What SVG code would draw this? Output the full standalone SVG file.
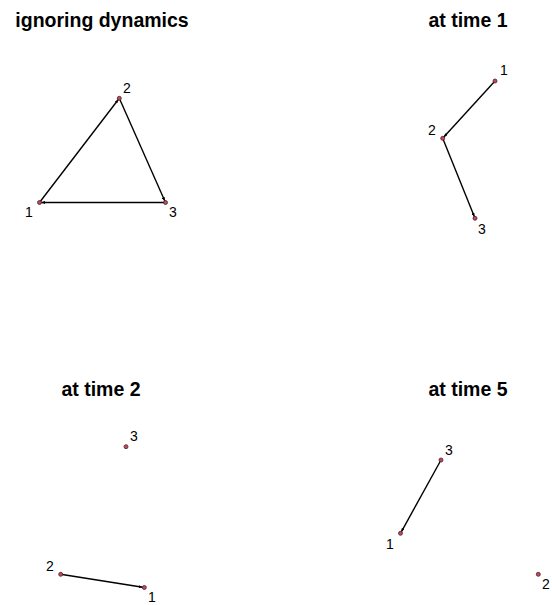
<svg xmlns="http://www.w3.org/2000/svg" width="552" height="605" viewBox="0 0 552 605">
<style>
.title{font-family:"Liberation Sans",Arial,sans-serif;font-weight:bold;font-size:19.5px;fill:#000;text-anchor:middle}
.lbl{font-family:"Liberation Sans",Arial,sans-serif;font-size:14px;fill:#000}
.node{fill:#d0405a;stroke:#3a2a2a;stroke-width:0.8}
.edge{stroke:#000;stroke-width:1.4;fill:none;marker-end:url(#arr)}
</style>
<defs>
<marker id="arr" viewBox="0 0 4 3" markerWidth="4" markerHeight="3" refX="5.5" refY="1.5" orient="auto" markerUnits="userSpaceOnUse">
<path d="M0,0 L4,1.5 L0,3 Z" fill="#000"/>
</marker>
</defs>
<rect width="552" height="605" fill="#fff"/>
<text class="title" x="102" y="27">ignoring dynamics</text>
<text class="title" x="468" y="27">at time 1</text>
<text class="title" x="101" y="396">at time 2</text>
<text class="title" x="468" y="396">at time 5</text>
<g id="connectors">
<line class="edge" x1="39.5" y1="202.5" x2="119.3" y2="98.3"/>
<line class="edge" x1="119.3" y1="98.3" x2="165.5" y2="202.5"/>
<line class="edge" x1="165.5" y1="202.5" x2="39.5" y2="202.5"/>
<line class="edge" x1="495" y1="81" x2="442.7" y2="138.3"/>
<line class="edge" x1="442.7" y1="138.3" x2="475" y2="218.3"/>
<line class="edge" x1="60.7" y1="574.3" x2="144.3" y2="587.5"/>
<line class="edge" x1="441" y1="460" x2="400.5" y2="533.3"/>
</g>
<g id="p1-n1"><circle class="node" cx="39.5" cy="202.5" r="2"/><text class="lbl" x="25" y="217">1</text></g>
<g id="p1-n2"><circle class="node" cx="119.3" cy="98.3" r="2"/><text class="lbl" x="123" y="93">2</text></g>
<g id="p1-n3"><circle class="node" cx="165.5" cy="202.5" r="2"/><text class="lbl" x="169" y="217">3</text></g>
<g id="p2-n1"><circle class="node" cx="495" cy="81" r="2"/><text class="lbl" x="500" y="75">1</text></g>
<g id="p2-n2"><circle class="node" cx="442.7" cy="138.3" r="2"/><text class="lbl" x="428" y="135">2</text></g>
<g id="p2-n3"><circle class="node" cx="475" cy="218.3" r="2"/><text class="lbl" x="478" y="234">3</text></g>
<g id="p3-n1"><circle class="node" cx="144.3" cy="587.5" r="2"/><text class="lbl" x="148" y="602">1</text></g>
<g id="p3-n2"><circle class="node" cx="60.7" cy="574.3" r="2"/><text class="lbl" x="46" y="571">2</text></g>
<g id="p3-n3"><circle class="node" cx="126" cy="446.7" r="2"/><text class="lbl" x="130" y="441">3</text></g>
<g id="p4-n1"><circle class="node" cx="400.5" cy="533.3" r="2"/><text class="lbl" x="386" y="549">1</text></g>
<g id="p4-n2"><circle class="node" cx="538.3" cy="574.3" r="2"/><text class="lbl" x="542" y="589">2</text></g>
<g id="p4-n3"><circle class="node" cx="441" cy="460" r="2"/><text class="lbl" x="445" y="455">3</text></g>
</svg>
